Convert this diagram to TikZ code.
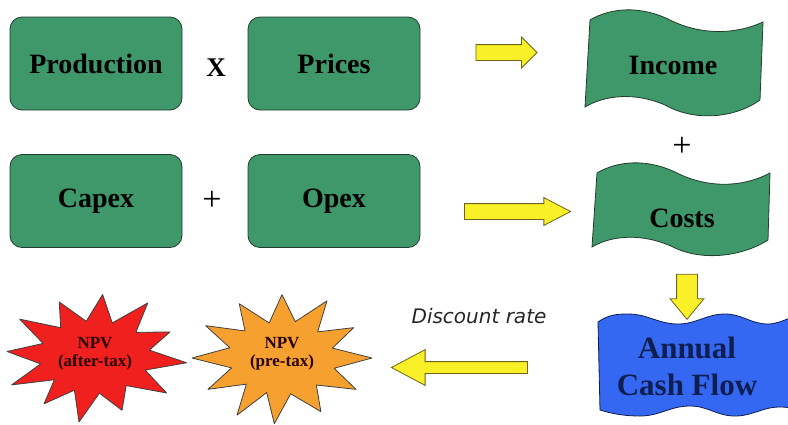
\documentclass[tikz,border=0pt]{standalone}
\usepackage{fontspec}
\setmainfont{Liberation Serif}
\newfontfamily\verdanafont{DejaVu Sans}
\usetikzlibrary{positioning, shapes.arrows}
\definecolor{cfGreen}{RGB}{62, 152, 106}
\definecolor{cfEdge}{RGB}{35, 60, 45}
\definecolor{cfBlue}{RGB}{52, 104, 242}
\definecolor{cfNavy}{RGB}{15, 30, 80}
\definecolor{cfYellow}{RGB}{250, 240, 40}
\definecolor{cfOlive}{RGB}{110, 100, 30}
\definecolor{cfRed}{RGB}{240, 32, 30}
\definecolor{cfOrange}{RGB}{246, 160, 48}
\tikzset{
    base/.style={
        font=\bfseries\fontsize{28}{32}\selectfont,
        align=center
    },
    greenbox/.style={
        base,
        rectangle,
        rounded corners=12pt,
        draw=cfEdge,
        thick,
        fill=cfGreen,
        minimum width=172pt,
        minimum height=93pt
    },
    flag/.style={
        draw=cfEdge,
        thick,
        fill=cfGreen
    },
    cashflag/.style={
        draw=cfNavy,
        thick,
        fill=cfBlue
    },
    burst/.style={
        draw=black!75,
        thick,
        line join=round
    },
    yarrow/.style={
        single arrow,
        draw=cfOlive,
        thick,
        fill=cfYellow,
        inner xsep=0pt,
        single arrow head indent=0pt
    },
    operator/.style={
        font=\fontsize{34}{38}\selectfont
    },
    npv/.style={
        font=\bfseries\fontsize{17}{18}\selectfont,
        align=center,
        text=black!85!red
    }
}

\begin{document}
\begin{tikzpicture}[x=1pt, y=-1pt]
    \useasboundingbox (0,0) rectangle (788,424);

    % Boxes
    \node[greenbox] (production) at (96,63.5) {Production};
    \node[greenbox] (prices) at (334,63.5) {Prices};
    \node[greenbox] (capex) at (96,201) {Capex};
    \node[greenbox] (opex) at (334,201) {Opex};

    % Operators
    \node[operator, font=\bfseries\fontsize{27}{30}\selectfont] (times) at (216,68) {X};
    \node[operator] (plusA) at (212,201) {+};
    \node[operator] (plusB) at (682,147) {+};

    % Flags
    \draw[flag] (590,20) .. controls (610,8) and (640,5) .. (670,20)
        .. controls (700,35) and (735,35) .. (763,22) -- (760,100)
        .. controls (735,118) and (695,122) .. (665,105)
        .. controls (635,92) and (605,95) .. (585,107) -- cycle;
    \node[base] (income) at (673,65) {Income};

    \draw[flag] (597,173) .. controls (617,161) and (647,158) .. (677,173)
        .. controls (707,188) and (742,188) .. (770,173) -- (768,240)
        .. controls (743,256) and (703,262) .. (673,247)
        .. controls (643,233) and (612,235) .. (592,247) -- cycle;
    \node[base] (costs) at (682,218) {Costs};

    \draw[cashflag] (598,322) .. controls (608,315) and (616,314) .. (628,314)
        to[out=0, in=180] (678,324) to[out=0, in=180] (725,314)
        to[out=0, in=180] (768,324) .. controls (776,324) and (782,321) .. (790,318)
        -- (790,408) .. controls (786,407) and (783,407) .. (780,407)
        to[out=180, in=0] (735,416) to[out=180, in=0] (690,406)
        to[out=180, in=0] (640,416) .. controls (622,416) and (610,413) .. (600,410) -- cycle;
    \node[base, text=cfNavy, font=\bfseries\fontsize{31}{37}\selectfont] (cashflow) at (687,366) {Annual\\Cash Flow};

    % Block arrows
    \node[yarrow, minimum height=61pt, inner ysep=7.5pt, single arrow head extend=7.5pt] (toIncome) at (502.5,52.5) {};
    \node[yarrow, minimum height=106pt, inner ysep=7.5pt, single arrow head extend=6pt, single arrow tip angle=55] (toCosts) at (510,211.5) {};
    \node[yarrow, minimum height=45pt, inner xsep=10pt, inner ysep=0pt, single arrow head extend=6.5pt, single arrow tip angle=79, shape border rotate=270] (toCash) at (687,290.5) {};
    \node[yarrow, minimum height=136pt, inner ysep=5.5pt, single arrow head extend=12pt, single arrow tip angle=56, shape border rotate=180] (toNPV) at (465,367.5) {};
    \node[font=\verdanafont\itshape\fontsize{20}{24}\selectfont, text=black!85] (discount) at (479,316) {Discount rate};

    % Bursts
    \draw[burst, fill=cfRed, shift={(95,357)}] (100:92 and 66)
        \foreach \a/\r in {85/0.55, 70/0.86, 52/0.55, 35/0.95, 20/0.58, 5/1.0, -10/0.6, -25/0.9, -40/0.58, -55/1.0, -70/0.55, -85/0.95, -100/0.55, -115/0.92, -130/0.58, -145/1.0, -160/0.6, -175/0.96, 170/0.6, 155/1.0, 142/0.56, 128/0.9, 114/0.55}
        { -- (\a:{\r*92} and {\r*66}) } -- cycle;
    \node[npv] (npvafter) at (95,354) {NPV\\(after-tax)};

    \draw[burst, fill=cfOrange, shift={(282,358)}] (95:88 and 66)
        \foreach \a/\r in {80/0.55, 62/0.92, 47/0.56, 30/0.95, 15/0.6, 0/1.0, -15/0.58, -30/0.92, -45/0.56, -60/1.0, -75/0.57, -90/0.96, -105/0.55, -120/0.95, -135/0.58, -150/0.98, -165/0.6, 180/1.0, 165/0.58, 150/0.95, 135/0.56, 120/1.0, 108/0.55}
        { -- (\a:{\r*90} and {\r*66}) } -- cycle;
    \node[npv] (npvpre) at (282,354) {NPV\\(pre-tax)};
\end{tikzpicture}
\end{document}
